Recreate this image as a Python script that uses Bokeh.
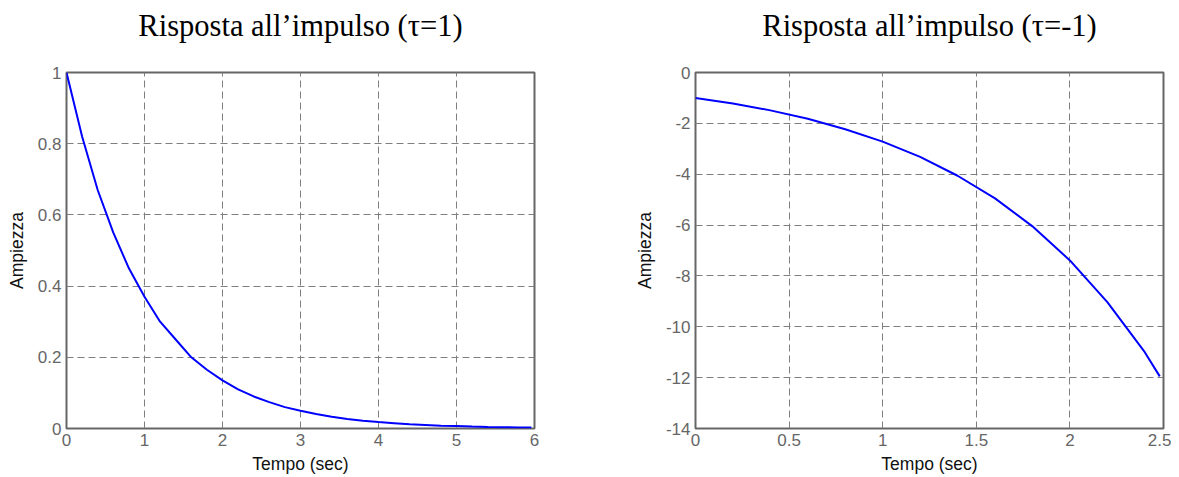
from bokeh.plotting import figure
from bokeh.layouts import row
from bokeh.models import Range1d, FixedTicker, Title
from bokeh.embed import file_html
from bokeh.resources import INLINE

# ---- data ----
t_pos = [0.0, 0.2, 0.4, 0.6, 0.8, 1.0, 1.2, 1.4, 1.6, 1.8, 2.0, 2.2, 2.4, 2.6, 2.8,
         3.0, 3.2, 3.4, 3.6, 3.8, 4.0, 4.2, 4.4, 4.6, 4.8, 5.0, 5.2, 5.4, 5.6, 5.8, 5.96]
y_pos = [1.0, 0.82, 0.67, 0.55, 0.45, 0.37, 0.30, 0.25, 0.20, 0.165, 0.135, 0.11, 0.09,
         0.074, 0.06, 0.05, 0.041, 0.033, 0.027, 0.022, 0.018, 0.015, 0.012, 0.010,
         0.008, 0.0067, 0.0055, 0.0045, 0.0037, 0.003, 0.0026]

t_neg = [0.0, 0.2, 0.4, 0.6, 0.8, 1.0, 1.2, 1.4, 1.6, 1.8, 2.0, 2.2, 2.4, 2.48]
y_neg = [-1.0, -1.22, -1.49, -1.82, -2.23, -2.72, -3.32, -4.06, -4.95, -6.05, -7.39,
         -9.03, -11.0, -11.95]

x_ticks_left = [0, 1, 2, 3, 4, 5, 6]
y_ticks_left = [0, 0.2, 0.4, 0.6, 0.8, 1]
x_ticks_right = [0, 0.5, 1, 1.5, 2, 2.5]
y_ticks_right = [-14, -12, -10, -8, -6, -4, -2, 0]

title_left = "Risposta all\u2019impulso (\u03c4=1)"
title_right = "Risposta all\u2019impulso (\u03c4=-1)"
x_label = "Tempo (sec)"
y_label = "Ampiezza"


def fmt(v):
    return "%g" % v


def make(xs, ys, xr, yr, xt, yt, title, mbl, mbr, toff):
    p = figure(frame_width=468, frame_height=356, output_backend="svg",
               toolbar_location=None, x_range=Range1d(*xr), y_range=Range1d(*yr),
               min_border_left=mbl, min_border_right=mbr, min_border_top=72,
               min_border_bottom=20, title=None)

    # spacer (closest to the frame), then the real title above it
    p.add_layout(Title(text=" ", text_font_size="10px", standoff=11), "above")
    p.add_layout(Title(text=title, text_font="Liberation Serif",
                       text_font_size="30.5px", text_font_style="normal",
                       text_color="#000000", align="center", offset=toff,
                       standoff=12), "above")

    p.line(xs, ys, line_color="#0000ff", line_width=2)

    p.xaxis.ticker = FixedTicker(ticks=xt)
    p.yaxis.ticker = FixedTicker(ticks=yt)
    p.xaxis.major_label_overrides = {v: fmt(v) for v in xt}
    p.yaxis.major_label_overrides = {v: fmt(v) for v in yt}
    for ax in (p.xaxis, p.yaxis):
        ax.axis_line_color = None
        ax.major_tick_in = 0
        ax.major_tick_out = 0
        ax.minor_tick_line_color = None
        ax.major_label_text_font = "Liberation Sans"
        ax.major_label_text_font_size = "17px"
        ax.major_label_text_color = "#666666"
        ax.axis_label_text_font = "Liberation Sans"
        ax.axis_label_text_font_size = "17.5px"
        ax.axis_label_text_font_style = "normal"
        ax.axis_label_text_color = "#111111"
    p.xaxis.major_label_standoff = 5
    p.yaxis.major_label_standoff = 5
    p.xaxis.axis_label = x_label
    p.yaxis.axis_label = y_label
    p.xaxis.axis_label_standoff = 5
    p.yaxis.axis_label_standoff = 8

    p.grid.grid_line_color = "#7f7f7f"
    p.grid.grid_line_dash = "7 4"
    p.grid.grid_line_width = 1
    p.outline_line_color = "#666666"
    p.outline_line_width = 2
    p.background_fill_color = "white"
    p.border_fill_color = "white"
    return p


p1 = make(t_pos, y_pos, (0, 6), (0, 1), x_ticks_left, y_ticks_left, title_left, 66, 60, -5)
p2 = make(t_neg, y_neg, (0, 2.5), (-14, 0), x_ticks_right, y_ticks_right, title_right, 101, 8, 0)

layout = row(p1, p2, spacing=0)
open("out.html", "w").write(file_html(layout, INLINE))
